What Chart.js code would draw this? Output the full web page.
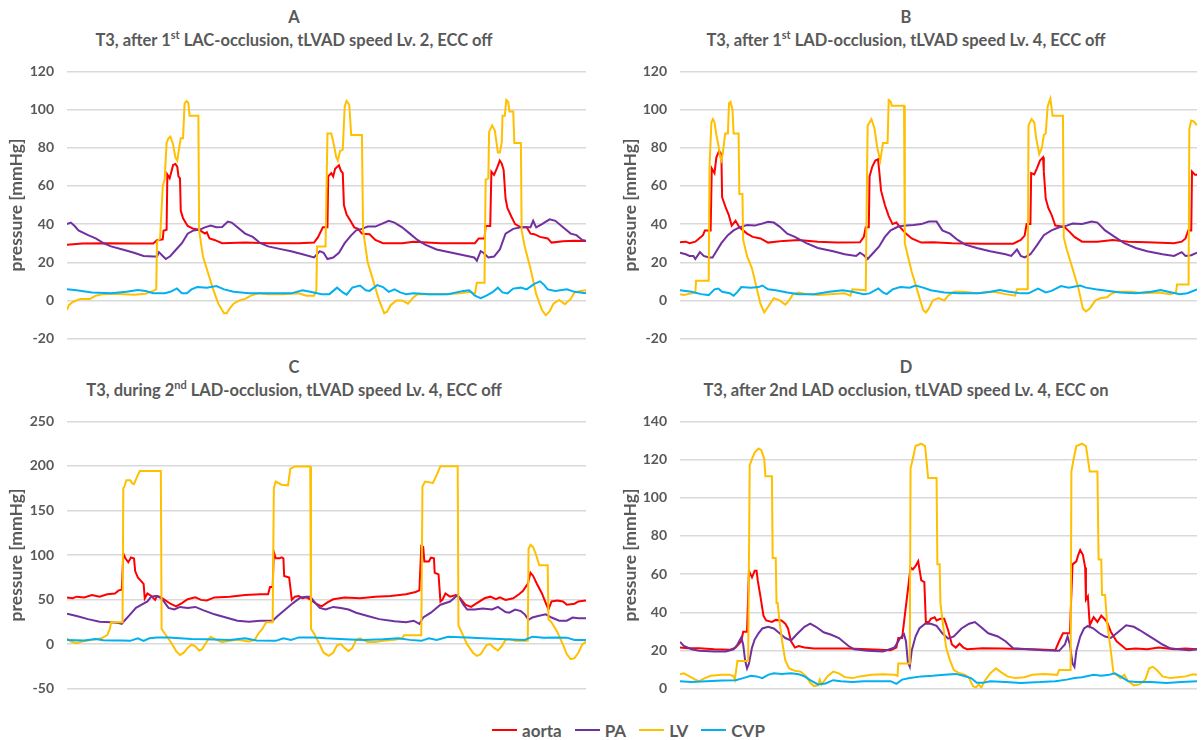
<!DOCTYPE html>
<html>
<head>
<meta charset="utf-8">
<script src="https://cdn.jsdelivr.net/npm/chart.js@4.4.0/dist/chart.umd.min.js"></script>
<style>
  body { margin: 0; background: #fff; width: 1201px; height: 740px; position: relative; overflow: hidden; font-family: Lato, sans-serif; color: #595959; }
  canvas { position: absolute; }
  .ttl { position: absolute; font-weight: bold; font-size: 16.5px; line-height: 20px; white-space: nowrap; transform: translateX(-50%); }
  .ttl sup { font-size: 11px; line-height: 0; position: relative; top: -1px; }
  #legend { position: absolute; left: 492px; top: 720px; height: 20px; display: flex; align-items: center; font-weight: bold; font-size: 17px; }
  #legend .item { display: flex; align-items: center; margin-right: 13px; }
  #legend .swatch { width: 25px; height: 2px; margin-right: 5px; }
</style>
</head>
<body>
<div class="ttl" style="left:294px; top:7px">A</div>
<div class="ttl" style="left:294px; top:30px">T3, after 1<sup>st</sup> LAC-occlusion, tLVAD speed Lv. 2, ECC off</div>
<div class="ttl" style="left:906px; top:7px">B</div>
<div class="ttl" style="left:906px; top:30px">T3, after 1<sup>st</sup> LAD-occlusion, tLVAD speed Lv. 4, ECC off</div>
<div class="ttl" style="left:294px; top:357px">C</div>
<div class="ttl" style="left:294px; top:380px">T3, during 2<sup>nd</sup> LAD-occlusion, tLVAD speed Lv. 4, ECC off</div>
<div class="ttl" style="left:906px; top:357px">D</div>
<div class="ttl" style="left:906px; top:380px">T3, after 2nd LAD occlusion, tLVAD speed Lv. 4, ECC on</div>
<div id="legend"></div>
<script>
// series and colours (shared by all four panels)
const seriesNames = ['aorta', 'PA', 'LV', 'CVP'];
const seriesColors = ['#ff0000', '#7030a0', '#ffc000', '#00b0f0'];

// y tick labels per panel
const ticksA = [-20, 0, 20, 40, 60, 80, 100, 120];
const ticksB = [-20, 0, 20, 40, 60, 80, 100, 120];
const ticksC = [-50, 0, 50, 100, 150, 200, 250];
const ticksD = [0, 20, 40, 60, 80, 100, 120, 140];

// time span (samples) of each panel
const spanA = 1355, spanB = 1350, spanC = 1355, spanD = 1350;

// [time, pressure mmHg]
const aortaA = [[0,29.2],[40,29.8],[100,30],[180,29.8],[225,29.8],[235,31.5],[250,32],[252,36.5],[260,37],[262,66],[268,64],[272,67],[277,71],[283,71.5],[288,70],[291,65],[295,64],[297,47],[303,43],[315,39],[330,37.5],[345,37],[360,35],[365,35.7],[372,32.5],[385,31.7],[405,30],[465,30.3],[525,30],[605,30],[645,30.3],[655,33],[668,38.3],[680,38.3],[682,65],[690,66.7],[695,65],[700,69],[710,70.8],[715,68],[720,66.7],[723,50],[730,45],[740,41.7],[750,38.3],[760,37.5],[770,35],[790,34.7],[805,31.7],[825,30],[875,30],[905,30.8],[975,30],[1065,30],[1075,32.5],[1090,32.5],[1093,39],[1105,39],[1108,67.5],[1115,65.8],[1122,69],[1130,73.3],[1135,71.7],[1140,68.3],[1145,53.3],[1150,48.3],[1160,44],[1170,40],[1185,38.3],[1200,38.5],[1210,35],[1220,34.7],[1235,33.3],[1255,32.5],[1265,30.3],[1295,31],[1325,31.3],[1355,31.2]];
const paA = [[0,40],[10,40.8],[20,39],[30,36.7],[55,34.2],[75,32.5],[95,30],[115,28.3],[145,26.7],[175,25],[200,23.3],[225,23],[235,23],[240,25.3],[250,23.3],[258,21.7],[270,23.3],[285,26.7],[300,30],[315,35],[330,36.7],[345,37],[360,38.3],[375,39.2],[390,38.3],[405,38.5],[420,41.3],[430,40.8],[445,38.3],[465,35],[485,33.3],[505,30],[525,28.3],[555,27],[585,25.8],[615,24.2],[645,22.5],[660,25.8],[670,25],[680,21.7],[695,22.5],[710,25],[725,30],[740,33.7],[755,36.7],[770,37.5],[785,38.7],[805,38.7],[820,40],[840,41.7],[855,40.8],[875,38.3],[895,35],[915,31.7],[935,29.2],[965,26.7],[1005,25],[1045,23.3],[1063,22.5],[1070,20.8],[1080,25.8],[1087,25],[1100,22.5],[1115,23],[1130,26.7],[1145,35],[1165,37.5],[1185,38.3],[1210,38.3],[1217,41.7],[1225,38.3],[1240,40],[1260,42.5],[1275,41.7],[1295,38.3],[1315,35],[1330,34.2],[1345,31.7],[1355,31.2]];
const lvA = [[0,-5],[5,-2.5],[15,-0.8],[35,0.8],[60,0.8],[75,2.5],[95,3.3],[125,3.5],[175,3],[205,3.5],[225,5],[233,5.8],[235,30.8],[243,32.5],[250,60],[255,63.3],[260,82.5],[265,85],[270,85.8],[277,81.7],[283,75],[288,73.3],[293,80],[297,85],[303,85],[307,103.3],[312,104.5],[317,103.3],[320,96.7],[343,96.7],[345,36.7],[355,23],[370,13.3],[380,6.7],[395,-1.7],[410,-6.7],[417,-6.7],[425,-4.2],[435,-1.7],[450,0],[465,0.8],[480,2.5],[500,3.7],[525,3.3],[565,3.3],[605,3.7],[625,2.5],[645,2.5],[651,5.3],[653,28.3],[675,28.3],[680,87.5],[690,87.5],[695,83.3],[703,75],[707,73.3],[713,78.3],[720,79],[725,101.7],[730,104.5],[737,102.5],[742,86.7],[770,86.7],[773,36.7],[785,20],[800,10],[815,0],[828,-6.7],[835,-6],[845,-2.5],[860,0],[875,0],[890,-1.7],[905,1.7],[915,3.3],[945,3.3],[985,3.3],[1025,3.7],[1055,4.5],[1065,3.3],[1070,9.2],[1090,9.2],[1093,63.3],[1100,64],[1102,88.3],[1110,91.7],[1117,89],[1125,77.5],[1130,77.5],[1135,82.5],[1137,96.7],[1143,96.7],[1147,105],[1152,104],[1155,99],[1165,99],[1168,82.5],[1185,82.5],[1187,36.7],[1195,28.3],[1210,16.7],[1225,3.3],[1240,-5],[1250,-7.8],[1260,-5.8],[1270,-1.7],[1285,0.3],[1300,-2],[1315,0.8],[1325,4.2],[1340,5],[1355,5.3]];
const cvpA = [[0,5.8],[25,5.3],[65,4.2],[115,3.8],[155,4.5],[185,5.5],[205,5],[225,3.8],[255,3.8],[270,4.5],[287,6.3],[300,3.8],[313,3.8],[325,5.8],[340,7],[365,6.7],[390,7.5],[410,5.8],[435,4.5],[475,3.8],[525,3.7],[585,3.7],[615,5.3],[635,4.5],[665,3.3],[685,3.3],[705,6.7],[720,4.2],[730,3],[745,6.7],[765,7.8],[780,5.3],[790,5],[810,8],[825,7],[840,4.5],[855,5.8],[870,4.2],[885,3.3],[905,3.7],[945,3.3],[995,3.3],[1035,5],[1050,5.3],[1065,2.5],[1080,1.2],[1095,2.5],[1110,4.2],[1125,6.7],[1137,4.2],[1150,3.7],[1165,6.2],[1185,6.7],[1200,5.8],[1220,8.7],[1235,10],[1245,8.3],[1255,5.8],[1275,5],[1305,5.8],[1325,4.5],[1355,3.7]];

const aortaB = [[0,30.5],[15,30.8],[25,30],[40,30.8],[50,32.5],[60,34.2],[65,36.7],[80,36.7],[83,69.2],[90,66.7],[95,75],[102,78.3],[108,76.7],[110,54],[120,48.3],[127,45],[135,39.2],[145,41.7],[155,38.3],[165,36.7],[175,35],[190,33.3],[210,32.5],[230,30.3],[270,31.2],[310,31.7],[360,30.8],[410,30.3],[470,30.5],[480,33.3],[485,38.3],[493,38.3],[495,65],[502,70],[510,73.3],[517,74],[520,68.3],[525,57.5],[535,50],[545,44.2],[555,40],[565,40.8],[575,38.3],[590,35],[605,32.5],[630,30.3],[660,30.5],[710,30],[790,29.7],[870,29.7],[890,31.7],[900,34],[905,40],[915,40],[917,66.7],[925,66],[932,69.2],[940,73.3],[948,75],[950,67.5],[955,53.3],[962,48.3],[970,45],[980,39.2],[990,39],[1005,38.3],[1018,35.8],[1030,33.3],[1050,30.8],[1090,30.8],[1130,31.7],[1170,30.8],[1220,30.5],[1290,30],[1310,30.8],[1320,32.5],[1327,36.7],[1335,36.7],[1337,67.5],[1345,65.8],[1350,65.8]];
const paB = [[0,25],[15,24.2],[25,23.3],[35,23.3],[40,21.7],[52,25.3],[62,23.3],[75,22.5],[85,22.5],[95,25.8],[108,30],[125,34.2],[140,36.7],[155,38.3],[175,39.5],[195,39.2],[210,40],[230,41.2],[245,40.8],[260,38.7],[280,35],[300,33.3],[330,30],[360,27.5],[400,25.8],[430,24.2],[460,23.3],[470,25],[480,23.7],[490,21.7],[505,25],[520,28.3],[535,33.3],[550,36.7],[570,38.7],[590,39.2],[610,39.5],[630,40],[650,41.3],[670,41.3],[685,36.7],[705,35],[725,31.7],[745,29.2],[775,27.5],[810,25.8],[850,24.2],[865,23.3],[880,26.7],[890,23.3],[900,22.5],[915,24.2],[930,28.3],[950,34.2],[970,36.7],[990,38.3],[1010,39.2],[1025,40.3],[1050,40],[1075,41.3],[1090,40.8],[1110,36.7],[1135,33.3],[1160,30],[1190,27.5],[1220,25.8],[1260,24.2],[1290,23.3],[1310,25.3],[1320,23.3],[1335,23.7],[1350,25]];
const lvB = [[0,3.3],[10,2.8],[30,3.7],[40,4.2],[42,10.3],[75,10.3],[77,70],[82,93.3],[86,95],[90,93.3],[95,86.7],[100,81.7],[105,75],[108,73.3],[112,77.5],[118,87.5],[125,87.5],[128,103.3],[132,104],[137,100],[140,87.5],[153,87.5],[155,55.8],[163,55.8],[165,31.7],[175,23.3],[188,16.7],[200,6.7],[210,-1.7],[220,-6.3],[230,-3.3],[245,1.2],[260,0],[275,-2.2],[285,0],[295,3.3],[310,4.2],[330,3.3],[360,2.8],[390,3.3],[430,3.7],[445,2.5],[450,5.8],[485,5.3],[488,60],[490,91.7],[500,95],[508,90],[515,80],[523,73.3],[530,82.5],[542,82.5],[545,105],[550,104.2],[553,102],[585,102],[587,30],[595,23.3],[605,15],[620,5],[635,-5],[642,-6.3],[650,-4.2],[660,0],[675,1.2],[690,0],[700,2.5],[715,4.5],[740,4.5],[775,3.8],[820,4.5],[850,3.3],[875,2.5],[880,5.8],[908,5.8],[910,91.7],[918,95],[925,93.3],[930,85],[938,76.7],[945,80],[950,86.7],[955,87.5],[960,101.7],[967,105.8],[973,96.7],[1000,96.7],[1002,33],[1010,26.7],[1025,16.7],[1040,6.7],[1052,-4.2],[1060,-5.8],[1070,-4.2],[1085,0],[1100,1.3],[1115,1.7],[1125,3.3],[1140,4.5],[1180,4.5],[1210,3.7],[1250,4.2],[1280,3.3],[1295,4.2],[1298,8.3],[1328,8.3],[1330,90],[1335,94.2],[1342,93.7],[1350,91.7]];
const cvpB = [[0,5.3],[30,4.5],[55,3.3],[75,2.8],[90,5.8],[100,6.2],[110,4.5],[130,3.8],[140,2.5],[150,4.5],[160,7],[185,6.7],[205,7],[215,7.8],[230,5.8],[250,5.3],[280,4.2],[310,3.3],[350,3.3],[390,4.5],[425,5.3],[450,4.5],[480,3.3],[495,3.7],[518,6.3],[530,4.2],[540,3.3],[555,5.8],[575,7],[600,6.7],[615,7.8],[635,6.7],[655,5.3],[690,4.2],[730,3.7],[780,3.8],[810,4.5],[835,5.5],[860,4.5],[890,3.7],[910,3.7],[935,6.2],[955,4.2],[970,5],[995,7.5],[1015,6.7],[1045,7.8],[1060,6.7],[1085,5.8],[1120,5],[1150,4.2],[1190,3.8],[1230,4.5],[1255,5.5],[1275,4.5],[1305,3.3],[1325,3.8],[1350,5.8]];

const aortaC = [[0,52.4],[15,51.5],[25,53.2],[45,52.4],[65,55],[85,53.2],[105,56],[125,56.7],[135,60.3],[143,61],[147,101.7],[153,96],[160,92],[167,97.3],[175,96],[178,82],[185,74.7],[193,71],[200,67.5],[203,51.4],[210,56.8],[220,54],[230,49.6],[235,53.9],[245,52.4],[255,49.6],[270,45.3],[285,42.4],[300,46],[315,50.3],[335,52.4],[350,49.6],[365,49],[385,52.4],[425,53.2],[465,55],[505,56],[525,56],[530,64],[537,64],[540,103.4],[545,96.3],[555,96.3],[560,97.3],[565,96.3],[567,76.5],[580,74.7],[587,49.6],[595,53.2],[605,53.9],[615,51.5],[625,52.4],[637,49.6],[650,45.3],[665,42.4],[680,46.7],[695,50.3],[725,52.4],[765,51.5],[805,53.2],[845,53.9],[885,56],[910,58.5],[920,60.3],[925,110],[930,109],[933,92.7],[945,92.7],[950,97],[958,96.3],[960,80.1],[970,78.3],[975,47.8],[980,49.6],[988,56.8],[1000,53.2],[1015,55],[1025,52.4],[1040,44.2],[1055,41.7],[1070,46],[1090,51.4],[1105,53.2],[1120,50.3],[1130,52.4],[1145,49.6],[1165,51.4],[1180,56],[1190,59.6],[1197,64],[1203,67.5],[1210,80.1],[1217,76.5],[1227,67.5],[1240,56.8],[1250,46],[1257,38.8],[1265,47.8],[1280,48.9],[1295,47.8],[1305,44.2],[1325,45.3],[1335,47.8],[1355,48.9]];
const paC = [[0,34.1],[25,31.6],[55,28],[85,25.1],[115,24.4],[135,23.7],[143,22.6],[150,26.2],[165,33.4],[180,40.6],[195,44.2],[210,47.8],[220,53.2],[230,53.9],[240,53.2],[250,49.6],[265,40.6],[280,38.8],[295,41.7],[315,40.6],[335,41.7],[355,38.1],[385,33.4],[415,29.8],[445,26.2],[475,25.1],[505,26.2],[525,26.2],[537,26.2],[550,31.6],[570,38.8],[590,46],[610,52.4],[625,53.2],[635,53.2],[645,47.8],[660,40.6],[675,38.8],[695,41.7],[715,40.6],[735,38.8],[755,35.2],[785,31.6],[815,28],[855,25.5],[885,24.4],[905,26.2],[920,22.6],[930,29.8],[950,35.2],[975,44.2],[1000,47.8],[1020,55],[1035,44.2],[1045,38.8],[1065,38.8],[1085,39.9],[1110,38.8],[1125,41.7],[1145,35.9],[1155,35.2],[1170,38.8],[1185,37],[1195,33.4],[1205,27.3],[1215,29.8],[1230,31.6],[1250,33.4],[1265,29.8],[1285,26.2],[1305,26.2],[1320,29.8],[1335,29.1],[1355,29.1]];
const lvC = [[0,6.5],[10,2.9],[25,1.1],[40,2.9],[65,4.7],[90,6.5],[105,10],[112,17],[115,24.4],[145,24.4],[147,175],[150,177],[155,184],[165,184],[170,180.7],[175,179.6],[183,188],[190,194.3],[245,194.3],[247,17],[255,11.9],[270,2.9],[285,-7.9],[295,-12.2],[305,-9.7],[315,-4.3],[325,-0.7],[335,-2.5],[345,-7.2],[352,-6.1],[365,2.9],[375,8.3],[390,4.7],[405,2.2],[425,3.6],[445,4.7],[475,2.9],[490,4.7],[500,11.9],[510,17],[520,24.4],[537,24.4],[540,175],[545,182.5],[560,178.9],[577,178.2],[583,196.8],[595,199.4],[635,199.4],[637,17],[645,11.9],[660,-0.7],[670,-9.7],[683,-13.3],[695,-9.7],[705,-1.4],[715,0],[725,-4.3],[735,-7.9],[745,-4.3],[755,4.7],[765,6.5],[785,2.2],[805,2.2],[825,3.6],[855,4.7],[875,6.5],[880,10],[925,10],[928,177],[935,182.5],[945,181.8],[955,180.7],[965,189.7],[975,199.7],[1020,199.7],[1022,20.8],[1030,13.6],[1045,-0.7],[1060,-9.7],[1070,-13.3],[1080,-11.5],[1095,-1.4],[1105,0],[1115,-4.3],[1125,-7.2],[1135,-2.5],[1145,4.7],[1155,5.7],[1170,3.6],[1190,3.6],[1203,3.6],[1205,107],[1210,111.4],[1217,108.8],[1225,99.9],[1233,88.4],[1255,88.4],[1257,28],[1265,24.4],[1280,13.6],[1295,-0.7],[1305,-11.5],[1315,-16.9],[1325,-15.8],[1335,-9.7],[1345,-0.7],[1355,2.9]];
const cvpC = [[0,4.7],[45,4],[75,5.7],[95,4.3],[125,4],[145,4],[165,3.6],[185,6.5],[200,3.6],[215,6.5],[235,7.5],[265,7.5],[295,6.5],[325,5.7],[365,5.4],[425,4.7],[465,6.5],[495,4],[545,3.6],[565,6.5],[585,4.7],[605,7.5],[645,7.5],[675,6.5],[725,5.4],[775,4.7],[825,5.4],[865,6.5],[895,4.7],[925,3.6],[945,6.5],[965,4.7],[995,8.3],[1045,7.5],[1085,6.5],[1145,5.4],[1195,4.7],[1215,8.3],[1245,7.2],[1275,7.5],[1305,7.2],[1325,4.7],[1355,4.7]];

const aortaD = [[0,21.5],[20,21.1],[50,21.1],[90,20.6],[130,20.3],[145,21.5],[160,24.8],[165,29.8],[175,29.8],[180,61.7],[188,58.3],[195,61.7],[200,61.7],[203,56.7],[210,48.3],[218,38.2],[225,35.7],[240,34.9],[250,36],[265,35.7],[275,34],[282,31.5],[290,24.8],[300,21.5],[310,22.3],[325,21.5],[350,21],[390,21],[440,21],[490,20.6],[550,20.1],[565,21.5],[570,26.5],[580,26.5],[602,63.4],[608,62.5],[615,64.2],[622,66.7],[630,56.7],[638,55.8],[642,34.9],[650,34.9],[655,36.6],[665,37.4],[670,35.7],[680,36.6],[690,36.6],[700,30.7],[710,23.1],[720,21.5],[730,23.5],[740,21.5],[750,20.6],[790,21.1],[840,21],[890,20.8],[940,20.5],[980,20.1],[990,24.8],[1000,29],[1018,29],[1025,65.1],[1035,66.7],[1040,70.1],[1045,72.6],[1052,70.1],[1058,63.4],[1060,46.6],[1065,48.3],[1070,33.2],[1080,37.4],[1090,34.9],[1100,38.2],[1108,36.6],[1115,34.9],[1125,29.8],[1140,24.8],[1150,23.1],[1165,20.6],[1190,21],[1220,20.6],[1250,21.5],[1290,20.6],[1320,21],[1350,20.6]];
const paD = [[0,24.5],[10,22.3],[30,20.6],[50,19.8],[90,19.4],[120,19.4],[140,20.6],[150,23.1],[160,26.8],[165,23.1],[170,14.8],[175,10.6],[180,13.1],[188,21.5],[195,25.7],[205,29],[215,31.5],[230,32.4],[245,31.5],[260,29],[275,26.5],[290,25.2],[305,28.5],[325,32.4],[340,34],[355,32.4],[375,29.5],[395,28.2],[415,26.5],[440,22.3],[455,20.6],[490,19.8],[530,19.4],[560,21.5],[575,26.5],[585,28.5],[590,24.8],[595,13.9],[600,11.4],[605,19.8],[615,27.3],[625,31.5],[640,34],[655,34],[670,32.9],[685,29],[700,26.2],[715,27.3],[735,31.5],[755,34],[770,34.9],[785,32.4],[805,29],[830,27.3],[850,24.8],[870,21.1],[910,20.6],[950,20.1],[990,19.8],[1005,23.1],[1012,27.3],[1018,23.1],[1025,13.1],[1030,11.4],[1035,19.8],[1045,27.3],[1055,31.5],[1065,32.9],[1080,31.5],[1095,29],[1110,27.3],[1125,26.5],[1145,29.8],[1165,33.2],[1185,32.4],[1200,30.7],[1220,28.2],[1240,25.7],[1260,23.1],[1280,21.1],[1300,20.6],[1330,20.1],[1350,20.6]];
const lvD = [[0,7.5],[10,8],[25,6.4],[40,4.7],[50,3.9],[65,5.5],[80,6.7],[110,7.2],[130,7.2],[140,6.4],[143,4.7],[150,14.4],[178,14.4],[182,117],[188,120.4],[195,123.7],[205,125.8],[212,125.1],[220,120.4],[223,111.2],[240,111.2],[242,68.4],[250,68.4],[252,44.9],[255,44.9],[260,34.9],[268,23.1],[275,14.8],[285,10.6],[300,9.4],[315,8.9],[330,6.4],[340,3],[350,1.3],[360,1.7],[365,4.7],[370,2.2],[385,6.4],[400,8.9],[415,8],[430,6],[450,5.5],[470,6.4],[500,7.2],[530,7.5],[560,7.2],[568,6.7],[570,13.1],[600,13.1],[602,115.4],[608,120.4],[615,127.1],[630,128.3],[640,127.1],[648,110.3],[670,110.3],[672,65.1],[678,65.1],[680,44.9],[688,31.5],[695,21.5],[705,14.8],[715,9.7],[730,8],[745,7.2],[755,5.5],[765,1.3],[772,0.5],[780,2.2],[787,0.5],[795,3.9],[810,8],[825,10.6],[840,8.4],[855,6.4],[875,5.5],[900,6],[920,7.2],[950,7.7],[985,7.2],[990,9.7],[1020,9.7],[1022,113.7],[1028,120.4],[1035,127.1],[1050,128.3],[1060,127.1],[1070,113.7],[1090,113.7],[1093,67.6],[1100,67.6],[1102,49.1],[1110,49.1],[1115,34.9],[1125,19.8],[1132,8],[1140,7.2],[1150,5.5],[1160,7.2],[1170,3.9],[1185,1.7],[1200,2.2],[1215,4.7],[1225,10.6],[1235,11.4],[1245,9.7],[1260,6.4],[1280,5.5],[1300,6],[1320,6.4],[1340,7.5],[1350,7.2]];
const cvpD = [[0,3.9],[30,3.4],[70,3.9],[110,4.2],[145,4.4],[165,5.5],[185,6.7],[200,6.4],[215,5.5],[230,7.2],[245,8],[265,7.7],[290,8],[310,7.5],[325,6.4],[340,4.4],[360,2.2],[380,2.7],[400,4.4],[420,3.9],[450,3.4],[480,3.9],[520,3.9],[550,3.9],[565,2.5],[580,4.7],[600,5.5],[630,6.4],[660,6.7],[690,7.2],[720,7.7],[740,6.7],[760,5.5],[775,3],[790,3],[810,3.9],[850,3.4],[890,3],[940,3.4],[980,3.9],[1010,4.7],[1030,5.5],[1050,6],[1080,7.2],[1100,6.7],[1120,7.2],[1135,8],[1150,6.4],[1170,3.9],[1190,3.4],[1230,3.4],[1270,3],[1310,3.4],[1350,3.9]];

// layout of each chart: canvas box [left, top, width, height] and plot box [left, top, right, bottom]
const panels = [
  { series: [aortaA, paA, lvA, cvpA], ticks: ticksA, span: spanA, box: [0, 50, 600, 310], plot: [67, 67.7, 586, 346.7], titleX: 16 },
  { series: [aortaB, paB, lvB, cvpB], ticks: ticksB, span: spanB, box: [600, 50, 601, 310], plot: [680, 67.7, 1197, 346.7], titleX: 30 },
  { series: [aortaC, paC, lvC, cvpC], ticks: ticksC, span: spanC, box: [0, 400, 600, 310], plot: [67, 417.3, 586, 696], titleX: 16 },
  { series: [aortaD, paD, lvD, cvpD], ticks: ticksD, span: spanD, box: [600, 400, 601, 310], plot: [680, 417.7, 1197, 696], titleX: 30 }
];

Chart.defaults.font.family = 'Lato, sans-serif';
Chart.defaults.color = '#595959';

panels.forEach(function(p) {
  const canvas = document.createElement('canvas');
  const [bx, by, bw, bh] = p.box;
  const [pl, pt, pr, pb] = p.plot;
  canvas.width = bw;
  canvas.height = bh;
  canvas.style.left = bx + 'px';
  canvas.style.top = by + 'px';
  canvas.style.width = bw + 'px';
  canvas.style.height = bh + 'px';
  document.body.appendChild(canvas);

  const titleFont = 17.5;
  new Chart(canvas.getContext('2d'), {
    type: 'line',
    data: {
      datasets: p.series.map(function(s, i) {
        return {
          label: seriesNames[i],
          data: s.map(function(d) { return { x: d[0], y: d[1] }; }),
          borderColor: seriesColors[i],
          borderWidth: 2,
          pointRadius: 0,
          tension: 0,
          fill: false,
          order: seriesNames.length - i
        };
      })
    },
    options: {
      responsive: false,
      animation: false,
      devicePixelRatio: 1,
      layout: { padding: { left: 0, top: pt - by, right: bx + bw - pr, bottom: by + bh - pb } },
      plugins: { legend: { display: false }, tooltip: { enabled: false } },
      scales: {
        x: { type: 'linear', display: false, min: 0, max: p.span },
        y: {
          min: p.ticks[0],
          max: p.ticks[p.ticks.length - 1],
          afterBuildTicks: function(scale) {
            scale.ticks = p.ticks.map(function(v) { return { value: v }; });
          },
          afterFit: function(scale) { scale.width = pl - bx; },
          border: { display: false },
          grid: { color: '#d9d9d9', lineWidth: 1.5, drawTicks: false },
          ticks: { padding: 13, font: { size: 14, weight: 'bold' }, color: '#595959' },
          title: {
            display: true,
            text: 'pressure [mmHg]',
            color: '#595959',
            font: { size: titleFont, weight: 'bold' },
            padding: { top: p.titleX - titleFont * 0.6, bottom: 0 }
          }
        }
      }
    }
  });
});

// shared legend at the bottom
const legend = document.getElementById('legend');
seriesNames.forEach(function(name, i) {
  const item = document.createElement('div');
  item.className = 'item';
  item.innerHTML = '<span class="swatch" style="background:' + seriesColors[i] + '"></span>' + name;
  legend.appendChild(item);
});
</script>
</body>
</html>
